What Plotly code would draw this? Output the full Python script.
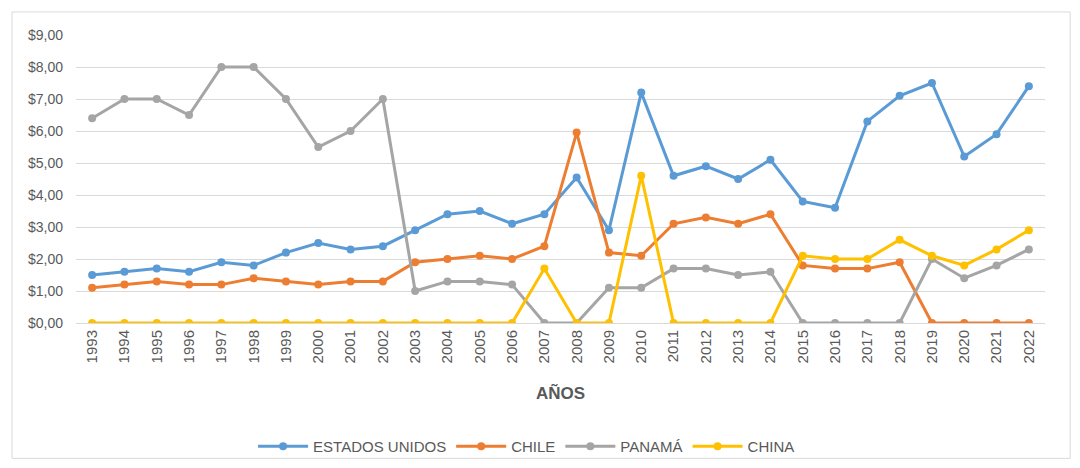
import plotly.graph_objects as go

# Datos
anios = [str(a) for a in range(1993, 2023)]

estados_unidos = [1.5, 1.6, 1.7, 1.6, 1.9, 1.8, 2.2, 2.5, 2.3, 2.4,
                  2.9, 3.4, 3.5, 3.1, 3.4, 4.55, 2.9, 7.2, 4.6, 4.9,
                  4.5, 5.1, 3.8, 3.6, 6.3, 7.1, 7.5, 5.2, 5.9, 7.4]
chile = [1.1, 1.2, 1.3, 1.2, 1.2, 1.4, 1.3, 1.2, 1.3, 1.3,
         1.9, 2.0, 2.1, 2.0, 2.4, 5.95, 2.2, 2.1, 3.1, 3.3,
         3.1, 3.4, 1.8, 1.7, 1.7, 1.9, 0, 0, 0, 0]
panama = [6.4, 7.0, 7.0, 6.5, 8.0, 8.0, 7.0, 5.5, 6.0, 7.0,
          1.0, 1.3, 1.3, 1.2, 0, 0, 1.1, 1.1, 1.7, 1.7,
          1.5, 1.6, 0, 0, 0, 0, 2.0, 1.4, 1.8, 2.3]
china = [0, 0, 0, 0, 0, 0, 0, 0, 0, 0,
         0, 0, 0, 0, 1.7, 0, 0, 4.6, 0, 0,
         0, 0, 2.1, 2.0, 2.0, 2.6, 2.1, 1.8, 2.3, 2.9]

series = [
    ("ESTADOS UNIDOS", estados_unidos, "#5B9BD5"),
    ("CHILE", chile, "#ED7D31"),
    ("PANAMÁ", panama, "#A5A5A5"),
    ("CHINA", china, "#FFC000"),
]

fuente = "Liberation Sans Narrow, Arial Narrow, Liberation Sans, sans-serif"
gris = "#595959"

fig = go.Figure()
for nombre, valores, color in series:
    fig.add_trace(go.Scatter(
        x=anios, y=valores, name=nombre,
        mode="lines+markers",
        line=dict(color=color, width=3),
        marker=dict(color=color, size=8),
    ))

# la página añade 8 px de margen al cuerpo, por eso la figura es algo menor
fig.update_layout(
    width=1064, height=452,
    paper_bgcolor="white", plot_bgcolor="white",
    margin=dict(l=68, r=27, t=27, b=137, autoexpand=False),
    separators=",.",
    font=dict(family=fuente, color=gris, size=14),
    showlegend=True,
    legend=dict(orientation="h", x=0.465, xanchor="center",
                yref="container", y=0.03, yanchor="middle",
                bgcolor="rgba(0,0,0,0)",
                font=dict(size=15, color=gris), itemwidth=50),
    xaxis=dict(
        type="category", range=[-0.5, 29.5], automargin=False,
        tickangle=-90, tickfont=dict(size=15, color=gris),
        showgrid=False, showline=True, linecolor="#D9D9D9", ticks="",
        title=dict(text="<b>AÑOS</b>", font=dict(size=17, color=gris), standoff=24),
    ),
    yaxis=dict(
        range=[0, 9], dtick=1, tickprefix="$", tickformat=".2f", automargin=False,
        tickfont=dict(size=14, color=gris), ticklabelstandoff=12,
        showgrid=True, gridcolor="#D9D9D9", gridwidth=1,
        zeroline=False, showline=False, ticks="",
    ),
)

fig.add_shape(type="rect", xref="paper", yref="paper",
              x0=-0.066, x1=1.026, y0=-0.47, y1=1.08,
              line=dict(color="#D9D9D9", width=1), layer="below")

fig.write_html("out.html")
